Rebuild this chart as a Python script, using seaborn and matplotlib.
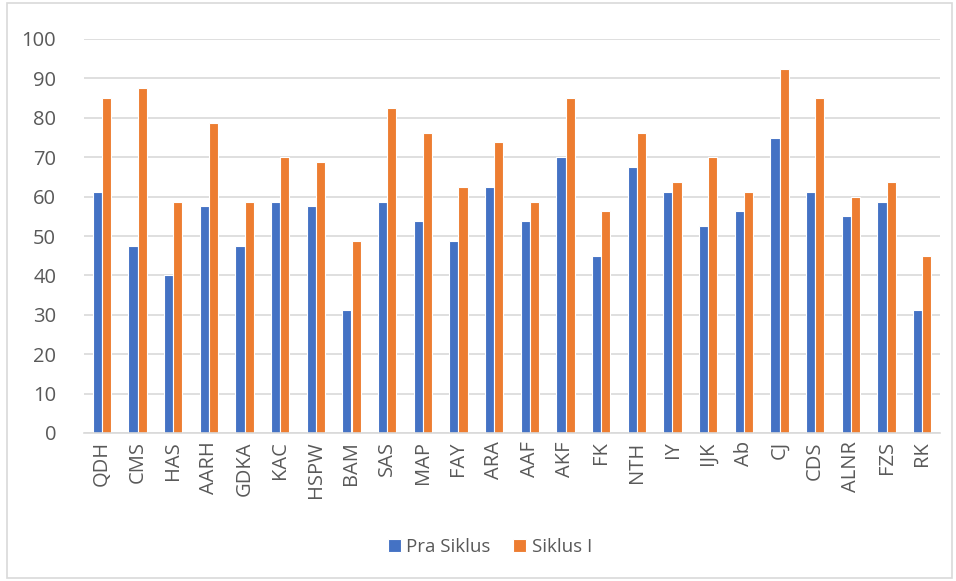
import matplotlib
matplotlib.use("Agg")
import matplotlib.pyplot as plt
import seaborn as sns
import pandas as pd
from matplotlib.patches import Rectangle

categories = ["QDH", "CMS", "HAS", "AARH", "GDKA", "KAC", "HSPW", "BAM", "SAS", "MAP",
              "FAY", "ARA", "AAF", "AKF", "FK", "NTH", "IY", "IJK", "Ab", "CJ",
              "CDS", "ALNR", "FZS", "RK"]
pra_siklus = [61.25, 47.5, 40, 57.5, 47.5, 58.75, 57.5, 31.25, 58.75, 53.75,
              48.75, 62.5, 53.75, 70, 45, 67.5, 61.25, 52.5, 56.25, 75,
              61.25, 55, 58.75, 31.25]
siklus_1 = [85, 87.5, 58.75, 78.75, 58.75, 70, 68.75, 48.75, 82.5, 76.25,
            62.5, 73.75, 58.75, 85, 56.25, 76.25, 63.75, 70, 61.25, 92.5,
            85, 60, 63.75, 45]
series_names = ["Pra Siklus", "Siklus I"]
colors = ["#4472C4", "#ED7D31"]

df = pd.DataFrame({
    "Siswa": categories * 2,
    "Nilai": pra_siklus + siklus_1,
    "Seri": [series_names[0]] * len(categories) + [series_names[1]] * len(categories),
})

sns.set_theme(style="white")
plt.rcParams["font.family"] = ["Open Sans", "DejaVu Sans"]

fig = plt.figure(figsize=(9.56, 5.81), dpi=100)
ax = fig.add_axes([84 / 956, 1 - 433 / 581, (940 - 84) / 956, (433 - 39) / 581])

sns.barplot(data=df, x="Siswa", y="Nilai", hue="Seri", palette=colors,
            saturation=1, width=0.52, edgecolor="white", linewidth=0.8,
            ax=ax, legend=True)

ax.set_ylim(0, 100)
ax.set_xlim(-0.5, len(categories) - 0.5)
ax.set_yticks(range(0, 101, 10))
ax.yaxis.grid(True, color="#d9d9d9", linewidth=1.2)
ax.set_axisbelow(True)
for s in ["top", "right", "left"]:
    ax.spines[s].set_visible(False)
ax.spines["bottom"].set_color("#d9d9d9")
ax.spines["bottom"].set_linewidth(1.2)
ax.set_xlabel("")
ax.set_ylabel("")
ax.tick_params(axis="y", length=0, labelsize=14.5, labelcolor="#595959", pad=20)
ax.tick_params(axis="x", length=0, labelsize=14.5, labelcolor="#595959", pad=6)
for lab in ax.get_xticklabels():
    lab.set_rotation(90)

leg = ax.legend(loc="center", bbox_to_anchor=(490 / 956, 1 - 547 / 581),
                bbox_transform=fig.transFigure, ncol=2, frameon=False,
                fontsize=13.5, handlelength=0.7, handleheight=0.7,
                handletextpad=0.3, columnspacing=1.2)
for t in leg.get_texts():
    t.set_color("#595959")

fig.patches.append(Rectangle((7 / 956, 3 / 581), (952 - 7) / 956, (578 - 3) / 581,
                             transform=fig.transFigure, fill=False,
                             edgecolor="#d9d9d9", linewidth=1.2))

fig.savefig("out.png", dpi=100)
